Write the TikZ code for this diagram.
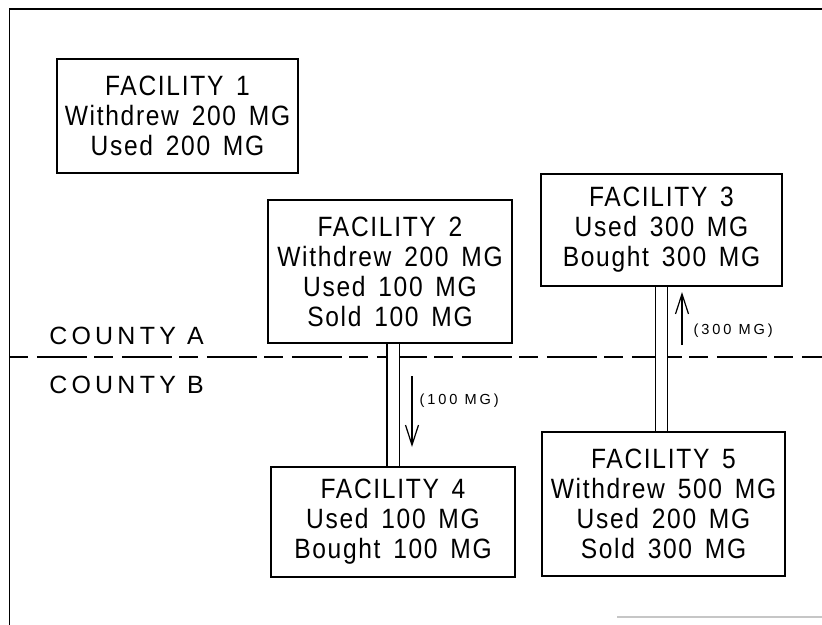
\documentclass[tikz,border=0pt]{standalone}
\usepackage{fontspec}
\setmainfont{Liberation Sans}
\newfontfamily\leroy[FakeStretch=0.88,LetterSpace=6,WordSpace=1.5]{Liberation Sans}
\usetikzlibrary{arrows.meta,backgrounds}
\tikzset{
  facility/.style={draw, line width=0.9pt, inner sep=0pt, align=center,
    font=\leroy\fontsize{15.9}{17.1}\selectfont},
  pipe/.style={double, double distance=0.22cm, line width=0.8pt},
  flow/.style={line width=0.7pt,
    -{Straight Barb[length=0.4cm,width=0.26cm,line width=0.7pt]}},
  flowlabel/.style={right, inner sep=0pt,
    font=\fontsize{8.3}{10}\selectfont\addfontfeature{LetterSpace=20}},
  county/.style={anchor=west, inner sep=0pt,
    font=\fontsize{14.2}{16}\selectfont\addfontfeature{LetterSpace=17}},
}
\begin{document}
\begin{tikzpicture}[x=0.02cm, y=-0.02cm]
  \useasboundingbox (0,0) rectangle (822,625);
  \def\xL{9.5} \def\xR{822} \def\yTop{9} \def\yLine{357}
  % frame
  \draw[line width=1.1pt] (\xL,625) -- (\xL,\yTop) -- (\xR,\yTop);
  \draw[line width=0.8pt, gray!45] (617,617) -- (\xR,617);
  % counties
  \node[county] (ctyA) at (49,336) {COUNTY A};
  \node[county] (ctyB) at (49,385) {COUNTY B};
  % facilities
  \node[facility, minimum width=4.82cm, minimum height=2.28cm] (f1) at (177.5,116)
    {FACILITY 1\\Withdrew 200 MG\\Used 200 MG};
  \node[facility, minimum width=4.88cm, minimum height=2.86cm] (f2) at (390,271.5)
    {FACILITY 2\\Withdrew 200 MG\\Used 100 MG\\Sold 100 MG};
  \node[facility, minimum width=4.82cm, minimum height=2.24cm] (f3) at (661.5,230)
    {FACILITY 3\\Used 300 MG\\Bought 300 MG};
  \node[facility, minimum width=4.88cm, minimum height=2.20cm] (f4) at (393,522)
    {FACILITY 4\\Used 100 MG\\Bought 100 MG};
  \node[facility, minimum width=4.86cm, minimum height=2.88cm] (f5) at (663.5,504)
    {FACILITY 5\\Withdrew 500 MG\\Used 200 MG\\Sold 300 MG};
  % county line and pipes go under the boxes
  \begin{pgfonlayer}{background}
    \draw[line width=1.6pt, dash pattern=on 0.38cm off 0.17cm on 1cm off 0.15cm]
      (\xL,\yLine) -- (\xR,\yLine);
    \draw[pipe] (f4.north |- f2.south) -- (f4.north);
    \draw[pipe] (f3.south) -- (f3.south |- f5.north);
  \end{pgfonlayer}
  % sales
  \coordinate (out2) at (412,376);
  \coordinate (in4) at (412,447);
  \draw[flow] (out2) -- (in4)
    node[flowlabel, pos=0.35, xshift=0.14cm] (q24) {(100 MG)};
  \coordinate (out5) at (682,345);
  \coordinate (in3) at (682,292);
  \draw[flow] (out5) -- (in3)
    node[flowlabel, pos=0.26, xshift=0.22cm] (q53) {(300 MG)};
\end{tikzpicture}
\end{document}
